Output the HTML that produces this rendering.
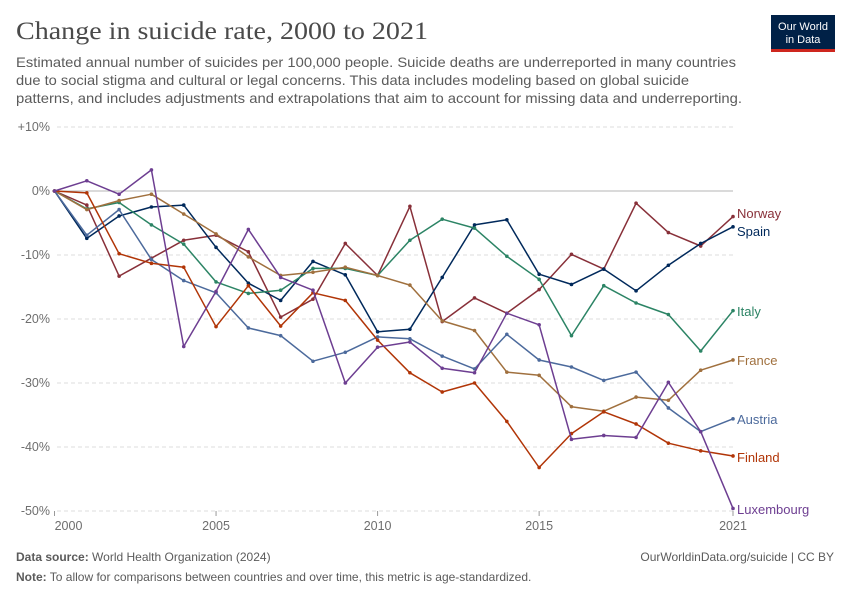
<!DOCTYPE html>
<html><head><meta charset="utf-8"><style>
body{margin:0;background:#fff;}
svg{display:block;font-family:"Liberation Sans",sans-serif;}
</style></head><body>
<svg id="chart" width="850" height="600" viewBox="0 0 850 600">
<text x="16" y="39" font-family="Liberation Serif,serif" font-size="25" fill="#4a4a4a" textLength="412" lengthAdjust="spacingAndGlyphs">Change in suicide rate, 2000 to 2021</text>
<g>
<rect x="771" y="15" width="64" height="36" fill="#002147"/>
<rect x="771" y="49" width="64" height="3" fill="#ce261e"/>
<text x="803" y="30" font-size="11" fill="#fff" text-anchor="middle">Our World</text>
<text x="803" y="43" font-size="11" fill="#fff" text-anchor="middle">in Data</text>
</g>
<g font-size="14" fill="#5b5b5b">
<text x="16" y="67" textLength="720" lengthAdjust="spacingAndGlyphs">Estimated annual number of suicides per 100,000 people. Suicide deaths are underreported in many countries</text>
<text x="16" y="85" textLength="673" lengthAdjust="spacingAndGlyphs">due to social stigma and cultural or legal concerns. This data includes modeling based on global suicide</text>
<text x="16" y="103" textLength="726" lengthAdjust="spacingAndGlyphs">patterns, and includes adjustments and extrapolations that aim to account for missing data and underreporting.</text>
</g>
<g id="grid"></g>
<g id="series"></g>
<g font-size="12" fill="#5b5b5b">
<text x="16" y="561"><tspan font-weight="bold">Data source:</tspan> World Health Organization (2024)</text>
<text x="834" y="561" text-anchor="end">OurWorldinData.org/suicide | CC BY</text>
<text x="16" y="581"><tspan font-weight="bold">Note:</tspan> To allow for comparisons between countries and over time, this metric is age-standardized.</text>
</g>
</svg>
<script>
const years = [2000,2001,2002,2003,2004,2005,2006,2007,2008,2009,2010,2011,2012,2013,2014,2015,2016,2017,2018,2019,2020,2021];
const yTicks = [10,0,-10,-20,-30,-40,-50];
const xTicks = [2000,2005,2010,2015,2021];
const countries = ["Norway","Spain","Italy","France","Austria","Finland","Luxembourg"];
const norway = [0,-2.2,-13.3,-10.5,-7.7,-6.9,-9.5,-19.7,-16.9,-8.2,-13.2,-2.4,-20.4,-16.7,-19.1,-15.4,-9.9,-12.2,-1.9,-6.5,-8.6,-4.0];
const spain = [0,-7.4,-3.9,-2.5,-2.2,-8.8,-14.4,-17.1,-11.0,-13.1,-22.0,-21.6,-13.5,-5.3,-4.5,-13.0,-14.6,-12.2,-15.6,-11.6,-8.2,-5.6];
const italy = [0,-2.8,-1.8,-5.3,-8.3,-14.2,-16.0,-15.5,-12.1,-12.1,-13.2,-7.7,-4.4,-5.8,-10.2,-13.8,-22.6,-14.8,-17.5,-19.3,-25.0,-18.7];
const france = [0,-2.9,-1.5,-0.5,-3.6,-6.7,-10.3,-13.2,-12.7,-11.9,-13.2,-14.7,-20.3,-21.8,-28.3,-28.8,-33.7,-34.4,-32.2,-32.7,-28.0,-26.4];
const austria = [0,-6.9,-2.9,-10.7,-14.0,-15.9,-21.4,-22.6,-26.6,-25.2,-22.8,-23.1,-25.8,-27.8,-22.4,-26.4,-27.5,-29.6,-28.3,-33.9,-37.6,-35.6];
const finland = [0,-0.3,-9.8,-11.3,-11.9,-21.2,-14.8,-21.1,-15.9,-17.1,-23.3,-28.4,-31.4,-30.0,-36.0,-43.2,-37.9,-34.5,-36.4,-39.4,-40.6,-41.4];
const luxembourg = [0,1.6,-0.5,3.3,-24.3,-15.7,-6.0,-13.5,-15.5,-30.0,-24.4,-23.6,-27.7,-28.4,-19.1,-20.9,-38.8,-38.2,-38.5,-29.9,-37.6,-49.6];
const seriesData = [norway,spain,italy,france,austria,finland,luxembourg];
const colors = ["#883039","#00295b","#2c8465","#a0703e","#4c6a9c","#b13507","#6d3e91"];
const labelY = [214,232,312,361,420,458,510];

const NS="http://www.w3.org/2000/svg";
const x = yr => 54.5 + (yr-2000)*(733-54.5)/21;
const y = v => 191 - v*6.4;
function mk(tag, attrs, parent){const e=document.createElementNS(NS,tag);for(const k in attrs)e.setAttribute(k,attrs[k]);parent.appendChild(e);return e;}
const grid=document.getElementById('grid');
yTicks.forEach(t=>{
  const l=mk('line',{x1:57,x2:733,y1:y(t),y2:y(t),stroke:t===0?'#b5b5b5':'#dddddd','stroke-width':1,'stroke-dasharray':t===0?'':'4,3'},grid);
  
  
  const tx=mk('text',{x:50,y:y(t)+4,'text-anchor':'end','font-size':12.5,fill:'#6e6e6e'},grid);
  tx.textContent=(t>0?'+':'')+t+'%';
  
  
});
xTicks.forEach(t=>{
  const l=mk('line',{x1:x(t),x2:x(t),y1:511,y2:516,stroke:'#999'},grid);
  
  
  const tx=mk('text',{x:x(t)+(t===2000?14:0),y:530,'text-anchor':'middle','font-size':12.5,fill:'#6e6e6e'},grid);
  tx.textContent=t;
  
  
});
const sg=document.getElementById('series');
seriesData.forEach((vals,i)=>{
  const g=mk('g',{},sg);
  
  
  const pts=vals.map((v,j)=>x(years[j]).toFixed(1)+','+y(v).toFixed(1)).join(' ');
  const pl=mk('polyline',{points:pts,fill:'none',stroke:colors[i],'stroke-width':1.5,'stroke-linejoin':'round'},g);
  
  
  vals.forEach((v,j)=>{
    const c=mk('circle',{cx:x(years[j]),cy:y(v),r:1.8,fill:colors[i]},g);
    
    
  });
  const lb=mk('text',{x:737,y:labelY[i]+4,'font-size':13,fill:colors[i]},g);
  lb.textContent=countries[i];
  
  
});
</script>
</body></html>
